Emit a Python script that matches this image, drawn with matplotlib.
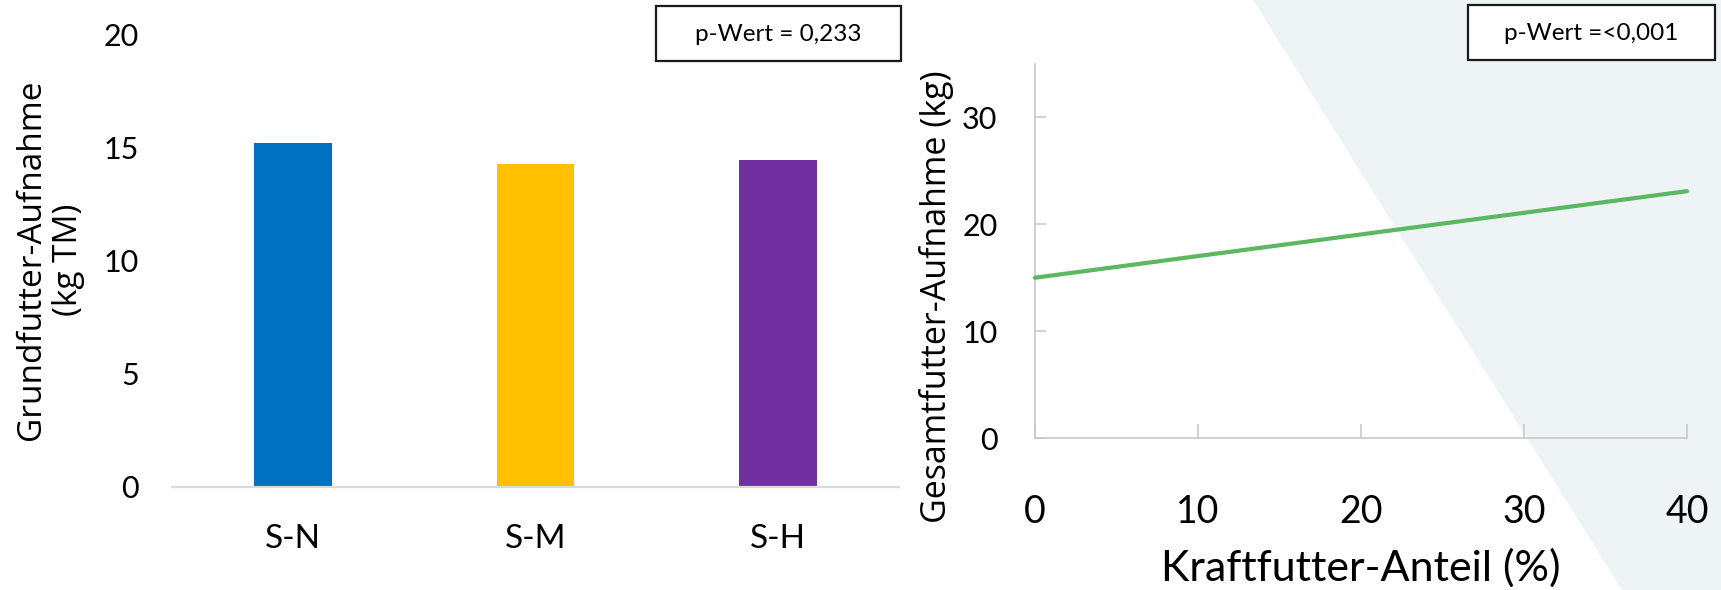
import matplotlib
import matplotlib.pyplot as plt
from matplotlib.patches import Polygon, Rectangle

matplotlib.use('Agg')

# Daten
gruppen = ['S-N', 'S-M', 'S-H']
grundfutter = [15.2, 14.3, 14.45]
farben = ['#0070C0', '#FFC000', '#7030A0']

kraftfutter_anteil = [0, 40]
gesamtfutter = [15.0, 23.1]

p_links = 'p-Wert = 0,233'
p_rechts = 'p-Wert =<0,001'

W, H = 1721, 590
TXT = ['Lato', 'DejaVu Sans']
LAB = ['Open Sans', 'DejaVu Sans']


def fx(px):
    return px / W


def fy(py):
    return 1 - py / H


def hintergrund(fig):
    dreieck = Polygon([(fx(1253), fy(0)), (1, fy(0)), (1, fy(590)), (fx(1622), fy(590))],
                      closed=True, transform=fig.transFigure, facecolor='#eef3f6',
                      edgecolor='none', zorder=-5)
    fig.patches.append(dreieck)


def pwert_box(fig, x0, y0, x1, y1, text):
    rect = Rectangle((fx(x0), fy(y1)), fx(x1) - fx(x0), fy(y0) - fy(y1),
                     transform=fig.transFigure, facecolor='white', edgecolor='#1a1a1a',
                     linewidth=1.6, zorder=5)
    fig.patches.append(rect)
    fig.text(fx((x0 + x1) / 2), fy((y0 + y1) / 2 + 1), text, ha='center', va='center',
             fontsize=17.5, family=TXT, zorder=6)


def balken(fig):
    ax = fig.add_axes([fx(172), fy(486.5), fx(899) - fx(172), fy(35) - fy(486.5)])
    ax.patch.set_visible(False)
    x = range(len(gruppen))
    ax.bar(x, grundfutter, width=0.32, color=farben, zorder=2)
    ax.set_xlim(-0.5, 2.5)
    ax.set_ylim(0, 20)
    ax.set_yticks([0, 5, 10, 15, 20])
    ax.set_xticks(list(x))
    ax.set_xticklabels(gruppen)
    for s in ['top', 'right', 'left']:
        ax.spines[s].set_visible(False)
    ax.spines['bottom'].set_color('#d9d9d9')
    ax.spines['bottom'].set_linewidth(1.6)
    ax.tick_params(axis='y', length=0, pad=24, labelsize=22)
    ax.tick_params(axis='x', length=0, pad=27, labelsize=24)
    for lbl in ax.get_xticklabels() + ax.get_yticklabels():
        lbl.set_family(TXT)
    fig.text(fx(50), fy(260), 'Grundfutter-Aufnahme\n(kg TM)', rotation=90,
             ha='center', va='center', multialignment='center', fontsize=24,
             family=LAB, linespacing=1.15)


def linie(fig):
    ax = fig.add_axes([fx(1035), fy(438), fx(1687) - fx(1035), fy(64) - fy(438)])
    ax.patch.set_visible(False)
    ax.plot(kraftfutter_anteil, gesamtfutter, color='#5cb860', linewidth=3,
            solid_capstyle='round', clip_on=False, zorder=3)
    ax.set_xlim(0, 40)
    ax.set_ylim(0, 35)
    ax.set_xticks([0, 10, 20, 30, 40])
    ax.set_yticks([0, 10, 20, 30])
    for s in ['top', 'right']:
        ax.spines[s].set_visible(False)
    for s in ['left', 'bottom']:
        ax.spines[s].set_color('#c8c8c8')
        ax.spines[s].set_linewidth(1.2)
    ax.tick_params(axis='y', direction='in', length=8, width=1.2, color='#c8c8c8',
                   pad=27, labelsize=22)
    ax.tick_params(axis='x', direction='in', length=10, width=1.2, color='#c8c8c8',
                   pad=40, labelsize=27)
    for lbl in ax.get_xticklabels() + ax.get_yticklabels():
        lbl.set_family(TXT)
    fig.text(fx(937), fy(297), 'Gesamtfutter-Aufnahme (kg)', rotation=90,
             ha='center', va='center', fontsize=24.5, family=LAB)
    fig.text(fx(1361), fy(568), 'Kraftfutter-Anteil (%)', ha='center', va='center',
             fontsize=31, family=TXT)


def main():
    fig = plt.figure(figsize=(W / 100, H / 100), dpi=100)
    hintergrund(fig)
    balken(fig)
    linie(fig)
    pwert_box(fig, 656, 6, 901, 61, p_links)
    pwert_box(fig, 1468, 5, 1715, 60, p_rechts)
    fig.savefig('out.png', dpi=100)
    plt.close(fig)


if __name__ == "__main__":
    main()
